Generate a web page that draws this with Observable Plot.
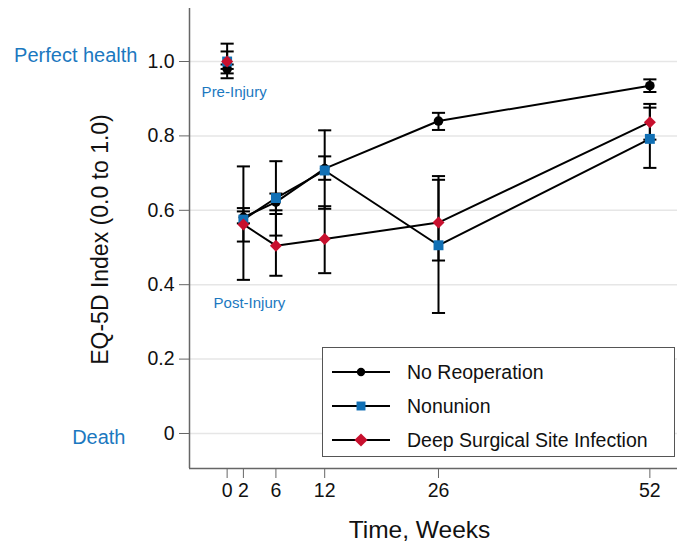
<!DOCTYPE html>
<html>
<head>
<meta charset="utf-8">
<script src="https://cdn.jsdelivr.net/npm/d3@7"></script>
<script src="https://cdn.jsdelivr.net/npm/@observablehq/plot@0.6"></script>
<style>
  body { margin: 0; background: #fff; font-family: "Liberation Sans", Arial, sans-serif; }
  #wrap { position: relative; width: 677px; height: 550px; }
  #legend { position: absolute; left: 322px; top: 347px; width: 353px; height: 110px;
            border: 1.5px solid #555; background: #fff; box-sizing: border-box; }
  .row { position: absolute; left: 8px; height: 24px; display: flex; align-items: center; }
  .row span { font-size: 19.5px; color: #111; margin-left: 16px; }
</style>
</head>
<body>
<div id="wrap"><div id="legend"></div></div>
<script>
const weeks = [0, 2, 6, 12, 26, 52];
const seriesNames = ["No Reoperation", "Nonunion", "Deep Surgical Site Infection"];

const noReopMean = [0.980, 0.581, 0.622, 0.712, 0.840, 0.935];
const noReopLo   = [0.968, 0.565, 0.600, 0.682, 0.816, 0.918];
const noReopHi   = [0.992, 0.597, 0.645, 0.745, 0.862, 0.952];

const nonunionMean = [1.000, 0.575, 0.633, 0.707, 0.506, 0.792];
const nonunionLo   = [0.955, 0.516, 0.532, 0.604, 0.324, 0.714];
const nonunionHi   = [1.048, 0.606, 0.732, 0.815, 0.692, 0.876];

const dssiMean = [1.000, 0.562, 0.505, 0.523, 0.567, 0.837];
const dssiLo   = [0.980, 0.413, 0.424, 0.431, 0.465, 0.790];
const dssiHi   = [1.027, 0.718, 0.590, 0.611, 0.682, 0.886];

const yTicks = [0, 0.2, 0.4, 0.6, 0.8, 1.0];

const colors = {"No Reoperation": "#000000", "Nonunion": "#1170b5", "Deep Surgical Site Infection": "#c8102e"};
const symbols = {"No Reoperation": "circle", "Nonunion": "square", "Deep Surgical Site Infection": "diamond2"};
const sizes = {"No Reoperation": 4.8, "Nonunion": 5.6, "Deep Surgical Site Infection": 5.4};

const means = [noReopMean, nonunionMean, dssiMean];
const los = [noReopLo, nonunionLo, dssiLo];
const his = [noReopHi, nonunionHi, dssiHi];

const data = [];
seriesNames.forEach((s, i) => {
  weeks.forEach((w, j) => {
    data.push({series: s, week: w, mean: means[i][j], lo: los[i][j], hi: his[i][j]});
  });
});
const caps = data.flatMap(d => [{week: d.week, v: d.lo}, {week: d.week, v: d.hi}]);

// custom horizontal-cap symbol
const capSymbol = { draw(ctx, size) { const w = Math.sqrt(size); ctx.moveTo(-w, 0); ctx.lineTo(w, 0); } };

const font = '"Liberation Sans", Arial, sans-serif';
const blueText = "#1b78bf";

const chart = Plot.plot({
  width: 677, height: 550,
  marginLeft: 189, marginRight: 0, marginTop: 8, marginBottom: 82,
  style: {fontFamily: font, fontSize: "19px", background: "#fff", color: "#111"},
  x: {domain: [-4.63, 55.4]},
  y: {domain: [-0.0941, 1.1425]},
  marks: [
    Plot.ruleY(yTicks, {stroke: "#e6e6e6", strokeWidth: 1.5}),
    Plot.ruleX([-4.63], {stroke: "#666", strokeWidth: 1.5}),
    Plot.ruleY([-0.0941], {stroke: "#666", strokeWidth: 1.5}),
    Plot.axisY({ticks: yTicks, tickSize: 10, tickPadding: 5, fontSize: 19.5, stroke: "#666",
                tickFormat: d => d === 0 ? "0" : d.toFixed(1), label: null}),
    Plot.axisX({ticks: weeks, tickSize: 10, tickPadding: 5, fontSize: 19.5, stroke: "#666",
                tickFormat: d => String(d), label: null}),
    Plot.text(["EQ-5D Index (0.0 to 1.0)"], {frameAnchor: "left", textAnchor: "middle", rotate: -90, dx: -89, dy: 1, fontSize: 23, fill: "#111"}),
    Plot.text(["Time, Weeks"], {frameAnchor: "bottom", dx: -14, dy: 69, fontSize: 24.5, fill: "#111"}),
    Plot.text(["Perfect health"], {x: -4.63, y: 1.0, dx: -52, dy: -6, textAnchor: "end", fontSize: 20, fill: blueText}),
    Plot.text(["Death"], {x: -4.63, y: 0, dx: -64, dy: 4, textAnchor: "end", fontSize: 20, fill: blueText}),
    Plot.text(["Pre-Injury"], {x: 0, y: 1.0, dx: 7, dy: 31, fontSize: 15, fill: blueText}),
    Plot.text(["Post-Injury"], {x: 2, y: 0.4, dx: 6, dy: 18, fontSize: 15, fill: blueText}),
    Plot.line(data.filter(d => d.week > 0), {x: "week", y: "mean", z: "series", stroke: "#000", strokeWidth: 2}),
    Plot.ruleX(data, {x: "week", y1: "lo", y2: "hi", stroke: "#000", strokeWidth: 2}),
    Plot.dot(caps, {x: "week", y: "v", symbol: capSymbol, r: 3.7, stroke: "#000", strokeWidth: 2, fill: "none"}),
    ...seriesNames.map(s => Plot.dot(data.filter(d => d.series === s), {
      x: "week", y: "mean", symbol: symbols[s], r: sizes[s], fill: colors[s], stroke: "none"
    }))
  ]
});
document.getElementById("wrap").prepend(chart);

// legend
const legend = d3.select("#legend");
seriesNames.forEach((s, i) => {
  const row = legend.append("div").attr("class", "row").style("top", (12 + i * 34) + "px");
  const svg = row.append("svg").attr("width", 60).attr("height", 20);
  svg.append("line").attr("x1", 1).attr("x2", 59).attr("y1", 10).attr("y2", 10)
     .attr("stroke", "#000").attr("stroke-width", 2);
  const sym = {circle: d3.symbolCircle, square: d3.symbolSquare, diamond2: d3.symbolDiamond2}[symbols[s]];
  const area = {circle: 55, square: 80, diamond2: 110}[symbols[s]];
  svg.append("path").attr("d", d3.symbol(sym, area)()).attr("transform", "translate(30,10)")
     .attr("fill", colors[s]);
  row.append("span").text(s);
});
</script>
</body>
</html>
